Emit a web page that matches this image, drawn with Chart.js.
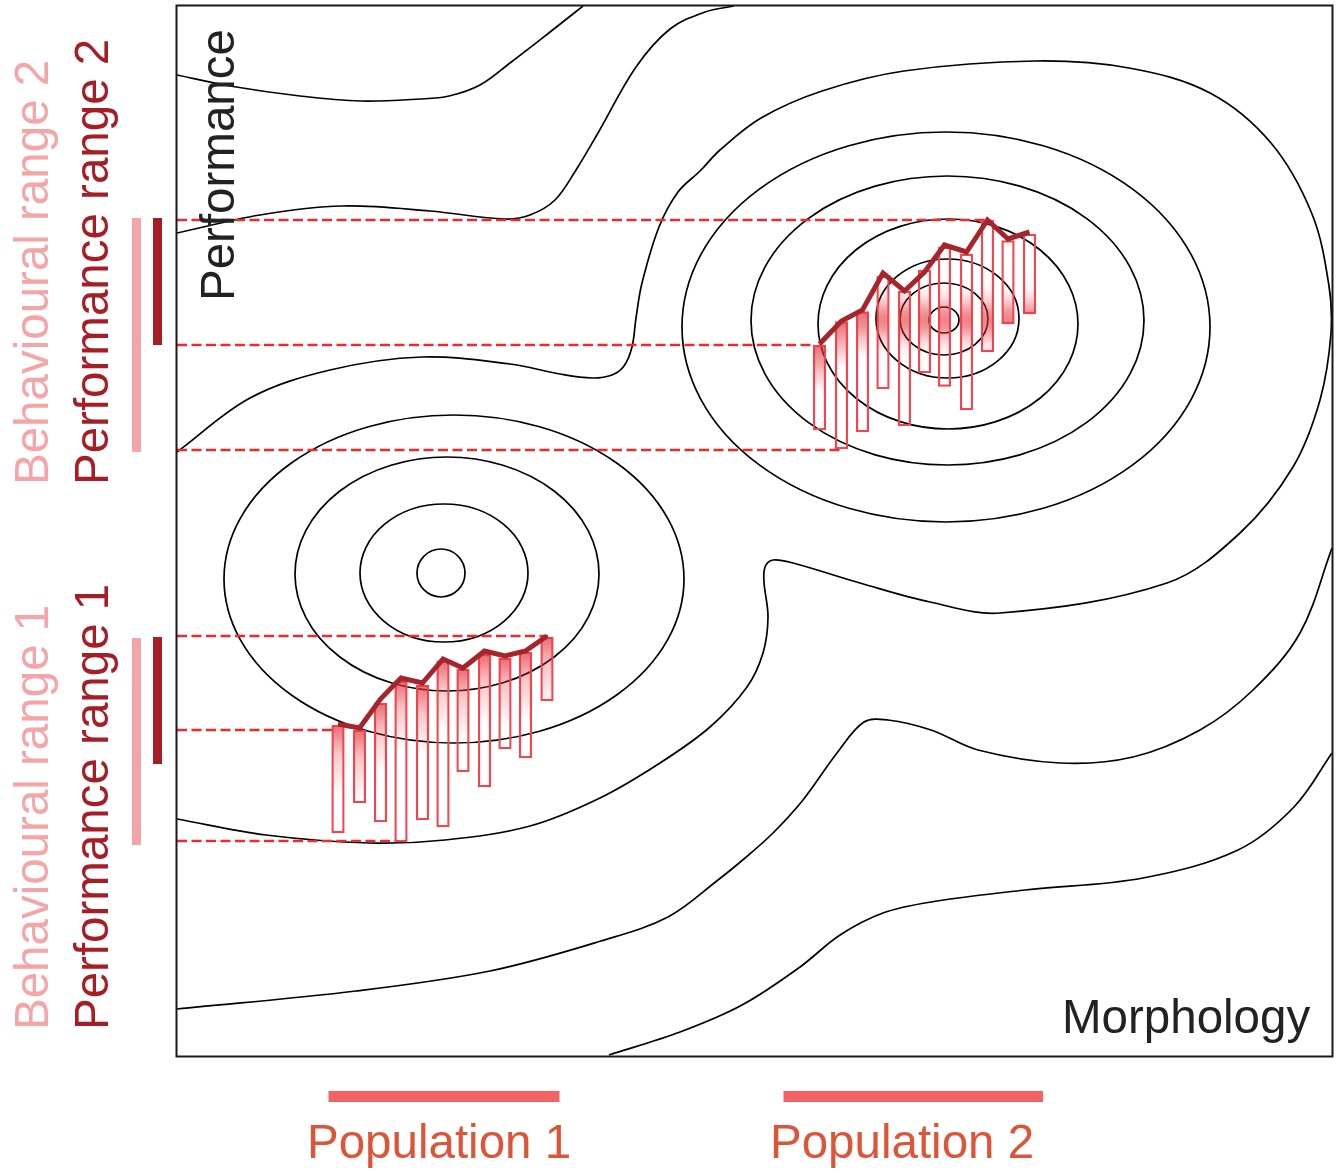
<!DOCTYPE html>
<html>
<head>
<meta charset="utf-8">
<script src="https://cdn.jsdelivr.net/npm/chart.js@4.4.1/dist/chart.umd.min.js"></script>
<style>
  html, body { margin: 0; padding: 0; background: #fff; }
  #wrap { width: 1339px; height: 1173px; position: relative; }
</style>
</head>
<body>
<div id="wrap"><canvas id="landscape"></canvas></div>
<script>
// Performance landscape: morphology (x) vs performance (y), both in the
// figure's own units (y grows downwards).

// closed contour rings around the two peaks: [cx, cy, rx, ry]
var peak1Rings = [[441, 573, 24, 24], [444, 573, 84, 69], [447, 574, 152, 117], [454, 579, 230, 164]];
var peak2Rings = [[944, 320, 15, 13], [944, 319, 44, 36], [947.5, 318.5, 71.5, 59.5],
  [948, 324, 130, 105], [947.5, 320.5, 196.5, 144.5], [946, 327, 264, 195]];

// open contour lines, [x, y] pairs
var contourA = [[177, 75], [230, 86], [300, 96], [361, 101], [420, 99], [449, 96], [480, 85],
  [510, 63], [545, 36], [583, 6]];
var contourB = [[177, 233], [260, 215], [342, 206], [430, 211], [505, 219], [530, 215], [555, 200],
  [576, 170], [598, 133], [636, 67], [670, 29], [705, 12], [734, 6]];
var contourC = [[177, 452], [250, 398], [330, 370], [422, 357], [510, 364], [560, 374], [592, 378],
  [612, 375], [624, 366], [632, 347], [636, 318], [642, 283], [659, 227], [678, 192], [700, 171],
  [720, 150], [761, 118], [822, 91], [904, 71], [1035, 61], [1129, 68], [1210, 93], [1271, 143],
  [1312, 214], [1329, 286], [1331, 333], [1320, 400], [1293, 467], [1240, 533], [1167, 583],
  [1000, 613], [930, 602], [860, 583], [793, 563], [773, 560], [765, 567], [764, 582], [768, 617],
  [763, 653], [747, 687], [710, 727], [660, 763], [600, 798], [530, 826], [445, 840],
  [369, 843], [266, 835], [177, 819]];
var contourF = [[177, 1009], [356, 991], [490, 971], [601, 941], [668, 917], [718, 880], [745, 858],
  [773, 833], [803, 800], [837, 753], [864, 722], [888, 720], [931, 730], [978, 750], [1060, 763],
  [1133, 757], [1200, 730], [1253, 690], [1300, 633], [1332, 548]];
var contourG = [[609, 1055], [680, 1032], [742, 1005], [800, 967], [840, 935], [883, 913], [931, 902],
  [1025, 890], [1143, 878], [1238, 850], [1294, 807], [1332, 753]];

// population 1 individuals: morphology, performance span (low, high) and trajectory
var pop1X = [338, 359.5, 380.5, 401, 422.5, 443, 463, 484.5, 505, 525.5, 547];
var pop1Low = [833, 803, 822, 842, 820, 827, 772, 787, 749, 758, 701];
var pop1High = [725, 730, 703, 681, 685, 661, 669, 654, 658, 652, 637];
var pop1Path = [724, 728, 699, 678, 683, 659, 668, 651, 656, 651, 636];

// population 2 individuals
var pop2X = [819.5, 841.5, 862.5, 883, 904.5, 924.5, 944.5, 966.5, 987.5, 1008, 1029.5];
var pop2Low = [430, 449, 432, 389, 426, 373, 386.5, 410, 352, 324, 314];
var pop2High = [345, 321.5, 311.5, 276, 291, 270, 247, 254, 220, 240.5, 234];
var pop2Path = [344, 321, 310, 273, 291, 272, 245, 252, 220, 239, 232];

// dashed guides: performance level and where each stops
var guideY = [220, 345, 450, 636, 730, 841];
var guideEnd = [985, 813, 840, 548, 333, 395];

// ranges shown outside the frame
var behavRange2 = [218, 452];
var perfRange2 = [218, 345];
var behavRange1 = [638, 845];
var perfRange1 = [637, 764];
var popRange1 = [328.5, 559.5];
var popRange2 = [783.5, 1043];

var INK = "#000000";
var FONT = "47.5px 'Liberation Sans', Arial, sans-serif";
var PINK = "#f5a4a7";
var DARKRED = "#a61e25";

function pts(list) {
  return list.map(function (p) { return { x: p[0], y: p[1] }; });
}
function bars(xs, lo, hi) {
  return xs.map(function (x, i) { return { x: x, y: [lo[i], hi[i]] }; });
}
function path(xs, ys) {
  return xs.map(function (x, i) { return { x: x, y: ys[i] }; });
}

function barBounds(c) {
  var y = c.chart.scales.y;
  var v = c.raw.y;
  return {
    top: y.getPixelForValue(Math.min(v[0], v[1])),
    bot: y.getPixelForValue(Math.max(v[0], v[1])),
  };
}

// red wash that fades downwards from the top of each bar
function topFade(c) {
  if (c.type !== "data" || !c.chart.chartArea) return "rgba(0,0,0,0)";
  var b = barBounds(c);
  var g = c.chart.ctx.createLinearGradient(0, b.top, 0, b.top + 70);
  g.addColorStop(0, "rgba(226,50,60,0.72)");
  g.addColorStop(0.4, "rgba(226,50,60,0.28)");
  g.addColorStop(1, "rgba(226,50,60,0)");
  return g;
}

// glow where the bar crosses the second peak, plus a top wash for low bars
function peakGlow(c) {
  if (c.type !== "data" || !c.chart.chartArea) return "rgba(0,0,0,0)";
  var b = barBounds(c);
  var peak = c.chart.scales.y.getPixelForValue(peak2Rings[0][1]);
  var g = c.chart.ctx.createLinearGradient(0, b.top, 0, b.bot);
  var n = 30;
  for (var i = 0; i <= n; i++) {
    var py = b.top + (b.bot - b.top) * i / n;
    var band = 0.6 * Math.exp(-Math.pow((py - peak) / 20, 2));
    var wash = b.top > peak - 20 ? 0.72 * Math.max(0, 1 - (py - b.top) / 46) : 0;
    g.addColorStop(i / n, "rgba(226,50,60," + Math.max(band, wash).toFixed(3) + ")");
  }
  return g;
}

function vtext(ctx, str, xBase, yStart, color) {
  ctx.save();
  ctx.translate(xBase, yStart);
  ctx.rotate(-Math.PI / 2);
  ctx.fillStyle = color;
  ctx.textAlign = "left";
  ctx.textBaseline = "alphabetic";
  ctx.fillText(str, 0, 0);
  ctx.restore();
}

var sketch = {
  id: "sketch",
  beforeDatasetsDraw: function (chart) {
    var ctx = chart.ctx, a = chart.chartArea, x = chart.scales.x, y = chart.scales.y;
    ctx.save();
    ctx.beginPath();
    ctx.rect(a.left, a.top, a.width, a.height);
    ctx.clip();
    ctx.strokeStyle = INK;
    ctx.lineWidth = 1.7;
    peak1Rings.concat(peak2Rings).forEach(function (r) {
      var cx = x.getPixelForValue(r[0]), cy = y.getPixelForValue(r[1]);
      ctx.beginPath();
      ctx.ellipse(cx, cy,
        Math.abs(x.getPixelForValue(r[0] + r[2]) - cx),
        Math.abs(y.getPixelForValue(r[1] + r[3]) - cy), 0, 0, Math.PI * 2);
      ctx.stroke();
    });
    ctx.restore();
  },
  afterDraw: function (chart) {
    var ctx = chart.ctx, a = chart.chartArea, x = chart.scales.x, y = chart.scales.y;
    ctx.save();
    // frame
    ctx.strokeStyle = "#1a1a1a";
    ctx.lineWidth = 2;
    ctx.strokeRect(a.left - 0.5, a.top - 0.5, a.width + 1, a.height + 1);

    // behavioural / performance ranges on the left
    function vbar(range, left, width, color) {
      var t = y.getPixelForValue(range[0]), b = y.getPixelForValue(range[1]);
      ctx.fillStyle = color;
      ctx.fillRect(left, Math.min(t, b), width, Math.abs(b - t));
    }
    vbar(behavRange2, 132, 9, PINK);
    vbar(perfRange2, 153, 9, DARKRED);
    vbar(behavRange1, 132, 9, PINK);
    vbar(perfRange1, 153, 9, DARKRED);

    // population spans below
    function hbar(range) {
      var l = x.getPixelForValue(range[0]), r = x.getPixelForValue(range[1]);
      ctx.fillStyle = "#f26363";
      ctx.fillRect(l, 1091, r - l, 11);
    }
    hbar(popRange1);
    hbar(popRange2);

    ctx.font = FONT;
    vtext(ctx, "Behavioural range 2", 48, 485, PINK);
    vtext(ctx, "Performance range 2", 108, 485, DARKRED);
    vtext(ctx, "Behavioural range 1", 48, 1030, PINK);
    vtext(ctx, "Performance range 1", 108, 1030, DARKRED);
    vtext(ctx, "Performance", 234, 301, "#222222");

    ctx.fillStyle = "#222222";
    ctx.textAlign = "left";
    ctx.textBaseline = "alphabetic";
    ctx.fillText("Morphology", 1062, 1033);

    ctx.fillStyle = "#dd5538";
    ctx.fillText("Population 1", 307, 1158);
    ctx.fillText("Population 2", 770, 1158);
    ctx.restore();
  },
};

function contour(list) {
  return {
    type: "line",
    data: pts(list),
    borderColor: INK,
    borderWidth: 1.7,
    tension: 0.35,
    pointRadius: 0,
    fill: false,
    order: 6,
  };
}

var datasets = [contourA, contourB, contourC, contourF, contourG].map(contour);

guideY.forEach(function (gy, i) {
  datasets.push({
    type: "line",
    data: [{ x: 177, y: gy }, { x: guideEnd[i], y: gy }],
    borderColor: "#ee2b2b",
    borderWidth: 2.4,
    borderDash: [10, 4.5],
    pointRadius: 0,
    fill: false,
    order: 5,
  });
});

[[pop1X, pop1Low, pop1High, topFade], [pop2X, pop2Low, pop2High, peakGlow]].forEach(function (p) {
  datasets.push({
    type: "bar",
    data: bars(p[0], p[1], p[2]),
    backgroundColor: p[3],
    borderColor: "#f0464f",
    borderWidth: 1.6,
    borderSkipped: false,
    barThickness: 12.6,
    grouped: false,
    order: 3,
  });
});

[[pop1X, pop1Path], [pop2X, pop2Path]].forEach(function (p) {
  datasets.push({
    type: "line",
    data: path(p[0], p[1]),
    borderColor: "#a6252c",
    borderWidth: 5,
    borderJoinStyle: "miter",
    tension: 0,
    pointRadius: 0,
    fill: false,
    order: 1,
  });
});

new Chart(document.getElementById("landscape"), {
  type: "line",
  data: { datasets: datasets },
  options: {
    responsive: true,
    maintainAspectRatio: false,
    animation: false,
    events: [],
    layout: { padding: { left: 177, top: 6, right: 7, bottom: 117 } },
    plugins: { legend: { display: false }, tooltip: { enabled: false } },
    scales: {
      x: { type: "linear", min: 177, max: 1332, display: false, offset: false },
      y: { type: "linear", min: 6, max: 1056, reverse: true, display: false },
    },
  },
  plugins: [sketch],
});
</script>
</body>
</html>
